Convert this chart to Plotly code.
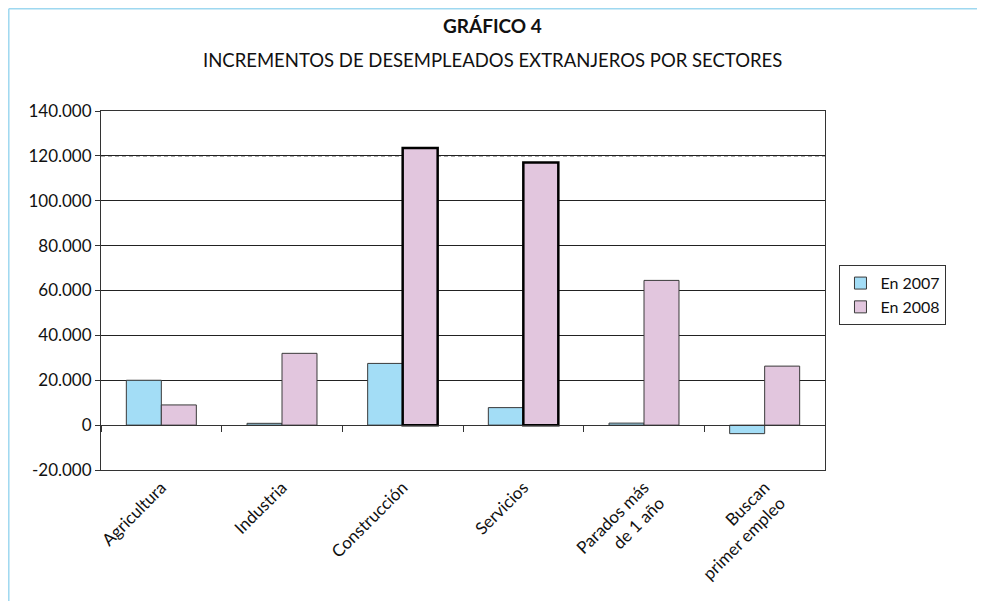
import plotly.graph_objects as go

categories = ["Agricultura", "Industria", "Construcción", "Servicios",
              "Parados más<br>de 1 año", "Buscan<br>primer empleo"]
values_2007 = [20000, 800, 27500, 7800, 900, -3800]
values_2008 = [9000, 32000, 123500, 117000, 64500, 26300]
series_names = ["En 2007", "En 2008"]
y_tick_values = [-20000, 0, 20000, 40000, 60000, 80000, 100000, 120000, 140000]
y_tick_labels = ["-20.000", "0", "20.000", "40.000", "60.000", "80.000",
                 "100.000", "120.000", "140.000"]

FONT = "Lato, 'Open Sans', sans-serif"
EDGE = "#3a3a3a"

# The page has an 8px body margin; the figure is sized and placed for that.
W, H = 977, 593
L, T, R, B = 93, 103, 160, 131
PW = W - L - R
PH = H - T - B

line_w_2008 = [1, 1, 2.5, 2.5, 1, 1]
line_c_2008 = [EDGE, EDGE, "#000000", "#000000", EDGE, EDGE]

fig = go.Figure()
fig.add_trace(go.Bar(x=categories, y=values_2007, name=series_names[0],
                     marker=dict(color="#A3DDF6", line=dict(color=EDGE, width=1))))
fig.add_trace(go.Bar(x=categories, y=values_2008, name=series_names[1],
                     marker=dict(color="#E2C6DE", line=dict(color=line_c_2008, width=line_w_2008))))
# invisible trace to carry the zero-crossing category axis
fig.add_trace(go.Scatter(x=categories, y=[0]*len(categories), xaxis="x2", mode="markers",
                         marker=dict(opacity=0), showlegend=False, hoverinfo="skip"))

fig.update_layout(
    width=W, height=H,
    paper_bgcolor="white", plot_bgcolor="white",
    font=dict(family=FONT, size=16, color="#111"),
    margin=dict(l=L, r=R, t=T, b=B, autoexpand=False),
    barmode="group", bargap=0.42, bargroupgap=0,
    showlegend=True,
    legend=dict(x=1.02, y=0.487, xanchor="left", yanchor="middle",
                bordercolor="#333", borderwidth=1, bgcolor="white",
                font=dict(size=16, family=FONT), itemwidth=30, tracegroupgap=0),
    xaxis=dict(showline=True, linecolor="#333", mirror=True, ticks="",
               tickangle=-45, tickfont=dict(size=17), showgrid=False),
    xaxis2=dict(overlaying="x", matches="x", anchor="free", position=0.125,
                showticklabels=False, ticks="outside", tickson="boundaries",
                ticklen=6, tickcolor="#333", showline=True, linecolor="#333",
                showgrid=False, zeroline=False),
    yaxis=dict(range=[-20000, 140000], tickvals=y_tick_values, ticktext=y_tick_labels,
               showline=True, linecolor="#333", mirror=True,
               ticks="outside", ticklen=5, tickcolor="#333",
               showgrid=True, gridcolor="#222", gridwidth=1, zeroline=False,
               tickfont=dict(size=17)),
)

cx = (484 - L) / PW
fig.add_annotation(text="<b>GRÁFICO 4</b>", xref="paper", yref="paper",
                   x=cx, y=1 + (T - 17) / PH, showarrow=False,
                   font=dict(size=19, family=FONT), xanchor="center", yanchor="middle")
fig.add_annotation(text="INCREMENTOS DE DESEMPLEADOS EXTRANJEROS POR SECTORES", xref="paper", yref="paper",
                   x=cx, y=1 + (T - 52) / PH, showarrow=False,
                   font=dict(size=18.5, family=FONT), xanchor="center", yanchor="middle")

# dashed 120.000 gridline
fig.add_shape(type="line", xref="paper", yref="y", x0=0, x1=1, y0=120000, y1=120000,
              line=dict(color="white", width=2), layer="below")
fig.add_shape(type="line", xref="paper", yref="y", x0=0, x1=1, y0=120000, y1=120000,
              line=dict(color="#222", width=1, dash="4px,3px"), layer="below")

# light blue outer frame (left and top)
fx0 = (0.8 - L) / PW
fy_top = 1 + (T - 0.8) / PH
fy_bot = -(H - T - PH) / PH
fig.add_shape(type="line", xref="paper", yref="paper", x0=fx0, x1=fx0, y0=fy_bot, y1=fy_top,
              line=dict(color="#9ED8F0", width=1.5))
fig.add_shape(type="line", xref="paper", yref="paper", x0=fx0, x1=(W - L) / PW, y0=fy_top, y1=fy_top,
              line=dict(color="#9ED8F0", width=1.5))

fig.write_html("out.html")
